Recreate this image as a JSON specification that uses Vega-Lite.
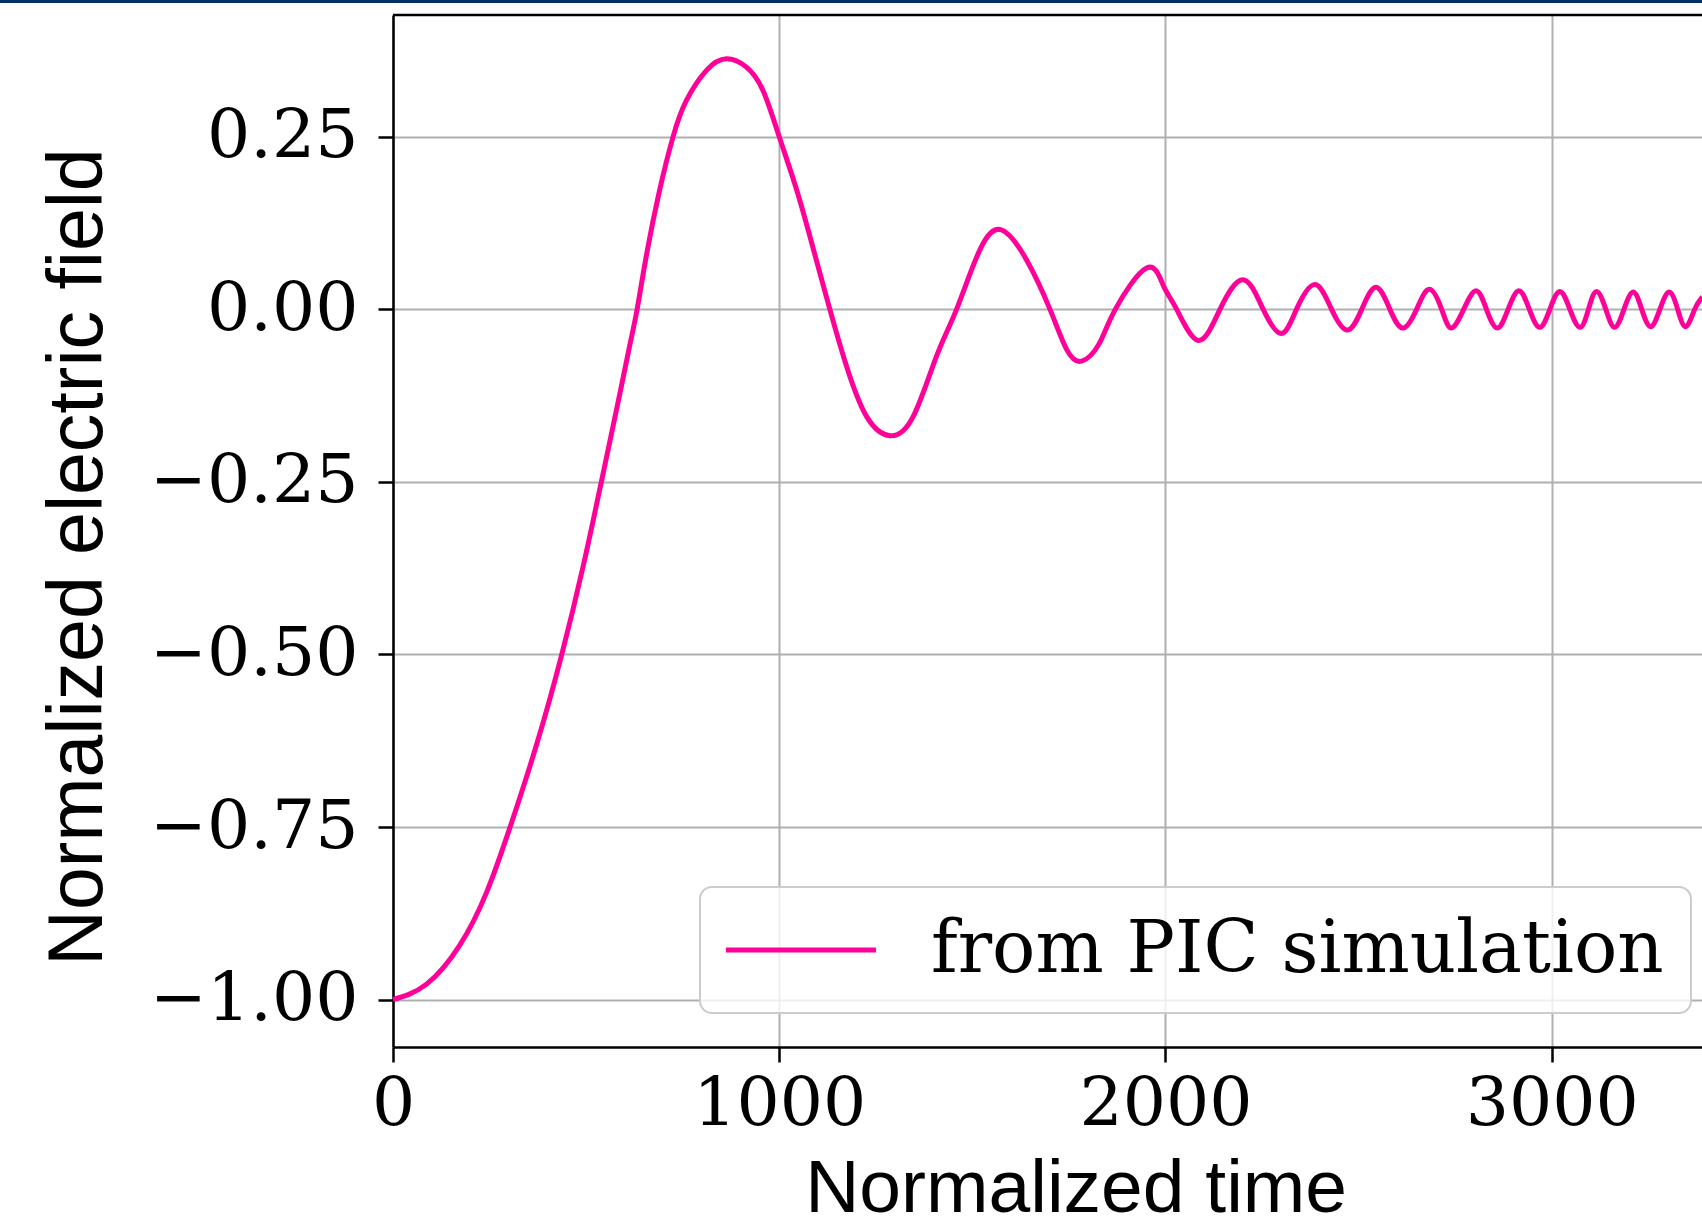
{
  "$schema": "https://vega.github.io/schema/vega-lite/v6.json",
  "width": 1309,
  "height": 1032,
  "autosize": {"type": "none"},
  "padding": {"left": 393, "top": 15, "right": 0, "bottom": 180},
  "background": "white",
  "config": {
    "view": {"stroke": null},
    "legend": {"strokeWidth": 2}
  },
  "datasets": {
    "pic": [
      {"t": 0, "E": -1.0},
      {"t": 86, "E": -0.978},
      {"t": 173, "E": -0.921},
      {"t": 242, "E": -0.845},
      {"t": 302, "E": -0.752},
      {"t": 371, "E": -0.632},
      {"t": 436, "E": -0.502},
      {"t": 492, "E": -0.373},
      {"t": 539, "E": -0.251},
      {"t": 587, "E": -0.123},
      {"t": 613, "E": -0.052},
      {"t": 632, "E": 0.0},
      {"t": 656, "E": 0.078},
      {"t": 690, "E": 0.172},
      {"t": 725, "E": 0.25},
      {"t": 759, "E": 0.302},
      {"t": 811, "E": 0.346},
      {"t": 863, "E": 0.363},
      {"t": 915, "E": 0.351},
      {"t": 958, "E": 0.317},
      {"t": 1000, "E": 0.25},
      {"t": 1044, "E": 0.175},
      {"t": 1087, "E": 0.09},
      {"t": 1131, "E": 0.0},
      {"t": 1174, "E": -0.082},
      {"t": 1226, "E": -0.155},
      {"t": 1287, "E": -0.183},
      {"t": 1347, "E": -0.155},
      {"t": 1407, "E": -0.068},
      {"t": 1459, "E": 0.0},
      {"t": 1520, "E": 0.087},
      {"t": 1576, "E": 0.115},
      {"t": 1640, "E": 0.072},
      {"t": 1701, "E": 0.0},
      {"t": 1744, "E": -0.058},
      {"t": 1783, "E": -0.075},
      {"t": 1828, "E": -0.05},
      {"t": 1870, "E": 0.0},
      {"t": 1951, "E": 0.06},
      {"t": 1994, "E": 0.035},
      {"t": 2029, "E": 0.0},
      {"t": 2085, "E": -0.045},
      {"t": 2141, "E": 0.0},
      {"t": 2201, "E": 0.043},
      {"t": 2253, "E": 0.0},
      {"t": 2300, "E": -0.035},
      {"t": 2339, "E": 0.0},
      {"t": 2387, "E": 0.036},
      {"t": 2430, "E": 0.0},
      {"t": 2471, "E": -0.03},
      {"t": 2508, "E": 0.0},
      {"t": 2545, "E": 0.032},
      {"t": 2581, "E": 0.0},
      {"t": 2615, "E": -0.027},
      {"t": 2650, "E": 0.0},
      {"t": 2683, "E": 0.029},
      {"t": 2715, "E": 0.0},
      {"t": 2740, "E": -0.027},
      {"t": 2772, "E": 0.0},
      {"t": 2804, "E": 0.027},
      {"t": 2831, "E": 0.0},
      {"t": 2859, "E": -0.027},
      {"t": 2887, "E": 0.0},
      {"t": 2915, "E": 0.027},
      {"t": 2942, "E": 0.0},
      {"t": 2969, "E": -0.026},
      {"t": 2995, "E": 0.0},
      {"t": 3021, "E": 0.026},
      {"t": 3047, "E": 0.0},
      {"t": 3073, "E": -0.026},
      {"t": 3095, "E": 0.0},
      {"t": 3116, "E": 0.026},
      {"t": 3140, "E": 0.0},
      {"t": 3163, "E": -0.026},
      {"t": 3187, "E": 0.0},
      {"t": 3211, "E": 0.025},
      {"t": 3233, "E": 0.0},
      {"t": 3256, "E": -0.025},
      {"t": 3280, "E": 0.0},
      {"t": 3304, "E": 0.025},
      {"t": 3326, "E": 0.0},
      {"t": 3347, "E": -0.025},
      {"t": 3370, "E": 0.0},
      {"t": 3390, "E": 0.018}
    ]
  },
  "layer": [
    {
      "data": {"name": "pic"},
      "mark": {"type": "line", "strokeWidth": 5, "interpolate": "natural"},
      "encoding": {
        "x": {
          "field": "t",
          "type": "quantitative",
          "scale": {"domain": [0, 3389], "nice": false, "zero": false},
          "axis": {
            "values": [0, 1000, 2000, 3000],
            "format": "d",
            "title": "Normalized time",
            "titleFont": "Liberation Sans",
            "titleFontSize": 75,
            "titleFontWeight": "normal",
            "titleColor": "black",
            "titleX": 682.6,
            "titleY": 164,
            "titleAlign": "center",
            "titleBaseline": "alphabetic",
            "labelFont": "DejaVu Serif",
            "labelFontSize": 68,
            "labelColor": "black",
            "labelPadding": 8,
            "labelLimit": 500,
            "labelFlush": false,
            "labelOverlap": false,
            "tickSize": 15,
            "tickColor": "black",
            "tickWidth": 2.5,
            "domainColor": "black",
            "domainWidth": 2.5,
            "grid": true,
            "gridColor": "#b0b0b0",
            "gridWidth": 2
          }
        },
        "y": {
          "field": "E",
          "type": "quantitative",
          "scale": {"domain": [-1.0687, 0.4265], "nice": false, "zero": false},
          "axis": {
            "values": [-1, -0.75, -0.5, -0.25, 0, 0.25],
            "format": ".2f",
            "title": "Normalized electric field",
            "titleFont": "Liberation Sans",
            "titleFontSize": 77,
            "titleFontWeight": "normal",
            "titleColor": "black",
            "titleAngle": -90,
            "titleX": -292,
            "titleY": 541.5,
            "titleAlign": "center",
            "titleBaseline": "alphabetic",
            "labelFont": "DejaVu Serif",
            "labelFontSize": 68,
            "labelColor": "black",
            "labelPadding": 20,
            "labelLimit": 500,
            "labelFlush": false,
            "labelOverlap": false,
            "tickSize": 15,
            "tickColor": "black",
            "tickWidth": 2.5,
            "domainColor": "black",
            "domainWidth": 2.5,
            "grid": true,
            "gridColor": "#b0b0b0",
            "gridWidth": 2
          }
        },
        "color": {
          "datum": "from PIC simulation",
          "type": "nominal",
          "scale": {"range": ["#ff0099"]},
          "legend": {
            "orient": "none",
            "legendX": 307,
            "legendY": 872,
            "title": null,
            "symbolType": "M-2.47,0H7.53",
            "symbolSize": 900,
            "symbolStrokeWidth": 5,
            "labelFont": "DejaVu Serif",
            "labelFontSize": 72,
            "labelColor": "black",
            "labelOffset": 132,
            "labelLimit": 3000,
            "padding": 27,
            "fillColor": "rgba(255,255,255,0.8)",
            "strokeColor": "#cccccc",
            "cornerRadius": 12
          }
        }
      }
    },
    {
      "data": {"values": [{}]},
      "mark": {"type": "rule", "color": "black", "strokeWidth": 2.5},
      "encoding": {"y": {"datum": 0.4265, "type": "quantitative"}}
    },
    {
      "data": {"values": [{}]},
      "mark": {"type": "rule", "color": "#01335f", "strokeWidth": 3.5},
      "encoding": {
        "y": {"datum": 0.4463, "type": "quantitative"},
        "x": {"datum": -1020, "type": "quantitative"},
        "x2": {"datum": 3389}
      }
    }
  ]
}
